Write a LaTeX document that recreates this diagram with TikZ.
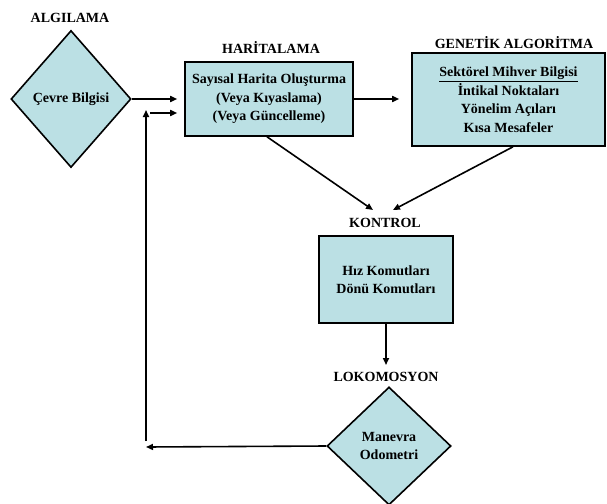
\documentclass[tikz,border=0pt]{standalone}
\usepackage{fontspec}
\setmainfont{Liberation Serif}
\usetikzlibrary{shapes.geometric,arrows.meta}
\definecolor{boxfill}{RGB}{187,224,228}
\begin{document}
\begin{tikzpicture}[x=1pt,y=-1pt,
  every node/.style={font=\bfseries\fontsize{14}{18.5}\selectfont},
  box/.style={draw,line width=1.6pt,fill=boxfill,rectangle,inner sep=0pt,align=center},
  dia/.style={draw,line width=1.6pt,fill=boxfill,diamond,inner sep=0pt,align=center},
  lbl/.style={inner sep=0pt},
  arr/.style={line width=1.6pt,-{Triangle[length=7pt,width=6pt]}},
  ln/.style={line width=1.6pt}]
\useasboundingbox (0,0) rectangle (607,503);
% nodes
\node[dia,minimum width=120pt,minimum height=137pt] (d1) at (71,99) {Çevre Bilgisi};
\node[lbl] (l1) at (70,18) {ALGILAMA};
\node[box,minimum width=168pt,minimum height=74pt] (h) at (269,99) {Sayısal Harita Oluşturma\\(Veya Kıyaslama)\\(Veya Güncelleme)};
\node[lbl] (l2) at (271,48) {HARİTALAMA};
\node[box,minimum width=193pt,minimum height=93pt] (g) at (508.5,99.5) {\underline{Sektörel Mihver Bilgisi}\\İntikal Noktaları\\Yönelim Açıları\\Kısa Mesafeler};
\node[lbl] (l3) at (514,43) {GENETİK ALGORİTMA};
\node[box,minimum width=134pt,minimum height=87pt] (k) at (386,279.5) {Hız Komutları\\Dönü Komutları};
\node[lbl] (l4) at (385,223) {KONTROL};
\node[dia,minimum width=124pt,minimum height=118pt] (d2) at (389,446) {Manevra\\Odometri};
\node[lbl] (l5) at (386,377) {LOKOMOSYON};
% helper coordinates
\coordinate (c1) at (146,447);
\coordinate (c2) at (146,441);
\coordinate (c3) at (146,110);
\coordinate (c4) at (150,113);
\coordinate (t1) at (373,210);
\coordinate (t2) at (393,210);
\coordinate (t3) at (386,365);
% connectors
\draw[arr] (d1.east) -- ([xshift=-7pt]h.west);
\draw[arr] (c4) -- ([xshift=-7pt]h.west |- c4);
\draw[arr] (c2) -- (c3);
\draw[arr] (h.east) -- ([xshift=-12pt]g.west |- h.east);
\draw[arr] (h.south -| 267,0) -- (t1);
\draw[arr] (g.south -| 513,0) -- (t2);
\draw[arr] (k.south) -- (t3);
\draw[arr] (d2.west) -- (c1);
\end{tikzpicture}
\end{document}
